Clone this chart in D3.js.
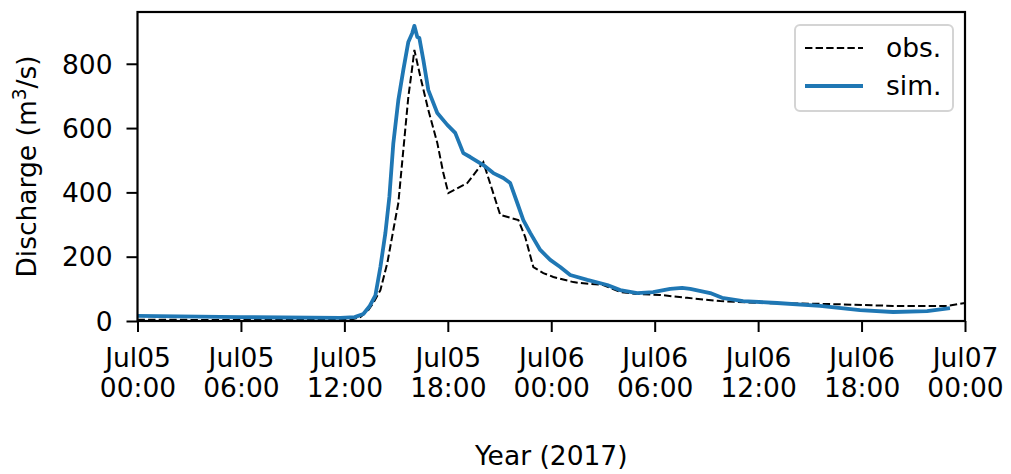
<!DOCTYPE html>
<html>
<head>
<meta charset="utf-8">
<script src="https://cdn.jsdelivr.net/npm/d3@7"></script>
<style>
  html, body { margin: 0; padding: 0; background: #fff; }
  svg { display: block; }
  text { font-family: "DejaVu Sans", sans-serif; fill: #000; }
</style>
</head>
<body>
<svg id="chart" width="1011" height="474"></svg>
<script>
// Hours since 2017-07-05 00:00 (UTC) and discharge in m3/s
const obsHours = [0, 6, 12, 12.5, 12.93, 13.39, 13.68, 14.09, 14.49, 14.84, 15.13, 15.42, 15.71, 15.94, 16.06,
  16.41, 16.87, 17.39, 17.74, 18.03, 19.13, 20.06, 20.58, 21.04, 22.09, 22.49, 22.96, 23.54, 24.12,
  25.28, 25.68, 27.01, 28.0, 28.99, 30.32, 31.88, 33.8, 36.12, 40.0, 43.83, 46.96, 48];
const obsValues = [4, 3, 4, 6, 12, 34, 56, 96, 180, 283, 367, 532, 697, 790, 843,
  759, 656, 554, 460, 398, 429, 494, 407, 330, 314, 261, 168, 149, 137,
  121, 118, 112, 90, 84, 81, 72, 62, 56, 53, 47, 47, 56];

const simHours = [0, 6, 11.77, 12.6, 13.1, 13.45, 13.8, 14.09, 14.38, 14.61, 14.84, 15.13, 15.42, 15.71, 15.94, 16.06,
  16.23, 16.35, 16.58, 16.87, 17.39, 17.97, 18.43, 18.9, 19.3, 20.06, 20.64, 21.22, 21.62, 22.03,
  22.38, 22.78, 23.36, 23.94, 24.52, 25.1, 26.09, 27.25, 28.0, 28.99, 29.91, 30.9, 31.59, 32.06,
  33.22, 33.91, 35.13, 37.1, 39.59, 41.91, 43.83, 45.8, 47.13];
const simValues = [16, 12, 10, 12, 22, 45, 80, 168, 274, 386, 553, 687, 781, 868, 896, 918,
  883, 880, 812, 718, 647, 610, 585, 522, 510, 485, 460, 445, 429, 367,
  314, 274, 221, 190, 168, 143, 128, 112, 96, 87, 90, 100, 103, 100,
  87, 72, 62, 56, 47, 34, 28, 31, 40];

const yTicks = [0, 200, 400, 600, 800];
const xTickHours = [0, 6, 12, 18, 24, 30, 36, 42, 48];

const seriesNames = ["obs.", "sim."];
const simColor = "#1f77b4";

const t0 = Date.UTC(2017, 6, 5, 0, 0);
const toDate = h => new Date(t0 + h * 3600e3);

const FS = 26.5;
const margin = { left: 137.5, right: 46, top: 12, bottom: 153 };
const W = 1011, H = 474;
const innerW = W - margin.left - margin.right;
const innerH = H - margin.top - margin.bottom;

const svg = d3.select("#chart");
const g = svg.append("g").attr("transform", `translate(${margin.left},${margin.top})`);

const x = d3.scaleUtc().domain([toDate(0), toDate(48)]).range([0, innerW]);
const y = d3.scaleLinear().domain([0, 961]).range([innerH, 0]);

// Clip the curves to the plotting area
svg.append("defs").append("clipPath").attr("id", "plotclip")
  .append("rect").attr("x", 0).attr("y", 0).attr("width", innerW).attr("height", innerH);

const obs = obsHours.map((h, i) => ({ t: toDate(h), v: obsValues[i] }));
const sim = simHours.map((h, i) => ({ t: toDate(h), v: simValues[i] }));

const line = d3.line().x(d => x(d.t)).y(d => y(d.v));

const DASH = "7.4,3.2";
const plot = g.append("g").attr("clip-path", "url(#plotclip)");
plot.append("path").datum(obs)
  .attr("d", line).attr("fill", "none")
  .attr("stroke", "#000").attr("stroke-width", 2)
  .attr("stroke-dasharray", DASH);
plot.append("path").datum(sim)
  .attr("d", line).attr("fill", "none")
  .attr("stroke", simColor).attr("stroke-width", 3.8)
  .attr("stroke-linejoin", "round").attr("stroke-linecap", "butt");

// Axes
const fmtDay = d3.utcFormat("%b%d");
const fmtTime = d3.utcFormat("%H:%M");

const xAxis = g.append("g").attr("transform", `translate(0,${innerH})`)
  .call(d3.axisBottom(x).tickValues(xTickHours.map(toDate)).tickSize(11).tickFormat(""));
xAxis.selectAll(".tick").each(function (d) {
  const t = d3.select(this).append("text")
    .attr("text-anchor", "middle").attr("font-size", FS).attr("y", 45.5);
  t.append("tspan").attr("x", 0).text(fmtDay(d));
  t.append("tspan").attr("x", 0).attr("y", 76).text(fmtTime(d));
});

const yAxis = g.append("g")
  .call(d3.axisLeft(y).tickValues(yTicks).tickSize(11).tickPadding(14));
yAxis.selectAll(".tick text").attr("font-size", FS).attr("dy", "0.35em");

[xAxis, yAxis].forEach(a => {
  a.attr("font-size", null).attr("font-family", null);
  a.select(".domain").remove();
  a.selectAll(".tick line").attr("stroke", "#000").attr("stroke-width", 2);
});

// Frame
g.append("rect").attr("x", 0).attr("y", 0).attr("width", innerW).attr("height", innerH)
  .attr("fill", "none").attr("stroke", "#000").attr("stroke-width", 2.2);

// Axis titles
svg.append("text").attr("x", margin.left + innerW / 2).attr("y", 465)
  .attr("text-anchor", "middle").attr("font-size", FS).text("Year (2017)");

const yl = svg.append("text")
  .attr("transform", `translate(35.5,${margin.top + innerH / 2}) rotate(-90)`)
  .attr("text-anchor", "middle").attr("font-size", FS);
yl.append("tspan").text("Discharge (m");
yl.append("tspan").attr("dy", -10).attr("font-size", FS * 0.7).text("3");
yl.append("tspan").attr("dy", 10).text("/s)");

// Legend
const leg = svg.append("g").attr("transform", "translate(795,25)");
leg.append("rect").attr("width", 158).attr("height", 86).attr("rx", 5)
  .attr("fill", "#fff").attr("stroke", "#d4d4d4").attr("stroke-width", 2);
const legItems = [
  { name: seriesNames[0], stroke: "#000", w: 2, dash: DASH, cy: 23 },
  { name: seriesNames[1], stroke: simColor, w: 3.8, dash: null, cy: 61 }
];
legItems.forEach(it => {
  leg.append("line").attr("x1", 10).attr("x2", 68).attr("y1", it.cy).attr("y2", it.cy)
    .attr("stroke", it.stroke).attr("stroke-width", it.w)
    .attr("stroke-dasharray", it.dash);
  leg.append("text").attr("x", 91).attr("y", it.cy).attr("dy", "0.35em")
    .attr("font-size", FS).text(it.name);
});
</script>
</body>
</html>
